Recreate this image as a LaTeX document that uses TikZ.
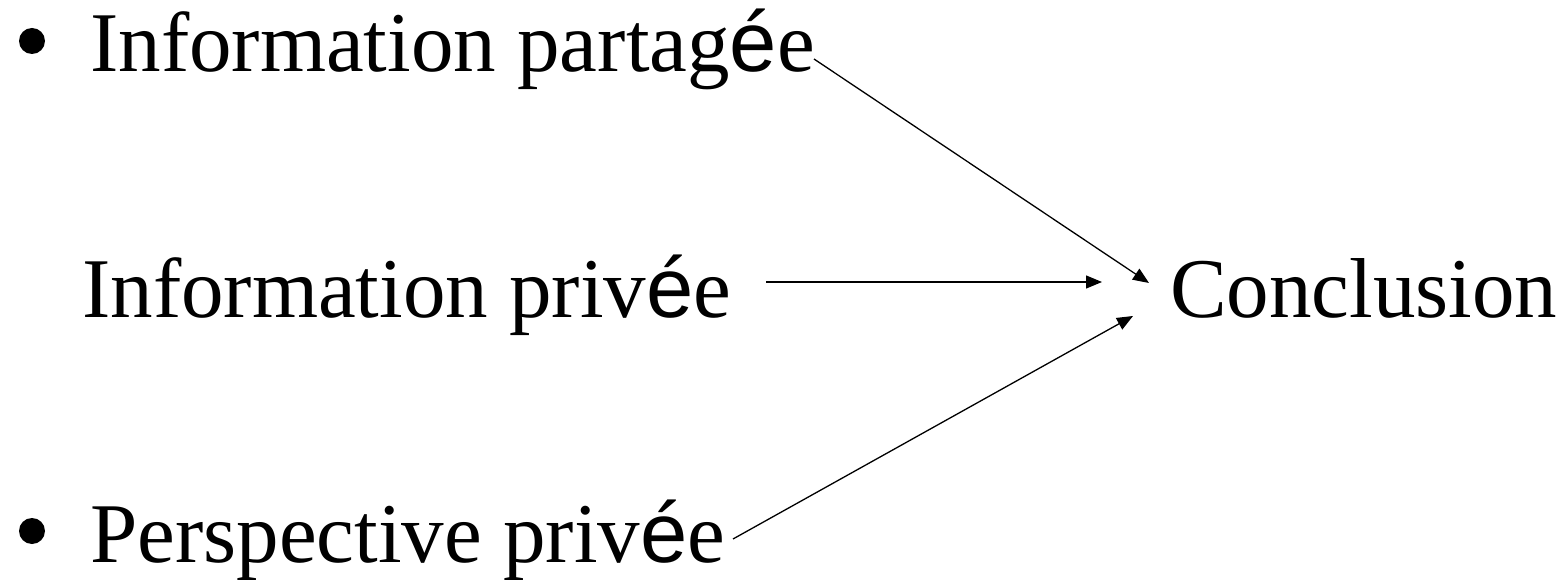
\documentclass[tikz,border=0pt]{standalone}
\usepackage{fontspec}
\setmainfont{Liberation Serif}
\newfontfamily\sanse{Liberation Sans}
\usetikzlibrary{arrows.meta}
\begin{document}
\begin{tikzpicture}[x=1pt,y=-1pt,
  lbl/.style={anchor=base west,inner sep=0pt,font=\fontsize{85pt}{100pt}\selectfont},
  bul/.style={circle,fill=black,inner sep=0pt,minimum size=26pt},
  conn/.style={line width=1.3pt,-{Triangle[length=16pt,width=13pt]}}]
\useasboundingbox (0,0) rectangle (1567,580);
\node[bul] (b1) at (32,41) {};
\node[bul] (b3) at (32,531) {};
\node[lbl] (t1) at (90,72) {Information partag{\sanse é}e};
\node[lbl] (t2) at (82,317) {Information priv{\sanse é}e};
\node[lbl] (t3) at (90,562) {Perspective priv{\sanse é}e};
\node[lbl] (conc) at (1170,317) {Conclusion};
\coordinate (s1) at (814,59);
\coordinate (s2) at (766,282);
\coordinate (s3) at (733,539);
\coordinate (e1) at (1149,283);
\coordinate (e2) at (1102,282);
\coordinate (e3) at (1133,316);
\draw[conn] (s1) -- (e1);
\draw[conn] (s2) -- (e2);
\draw[conn] (s3) -- (e3);
\end{tikzpicture}
\end{document}
